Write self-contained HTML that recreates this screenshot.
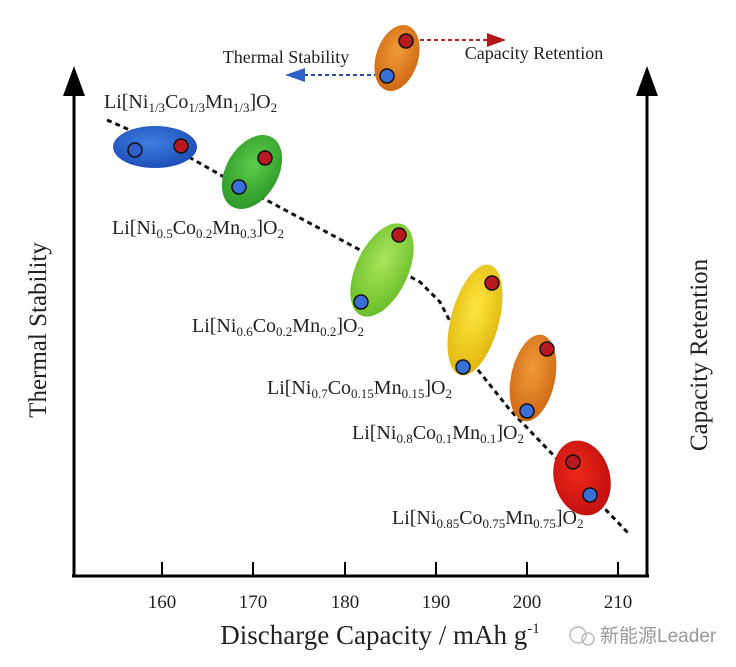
<!DOCTYPE html>
<html><head><meta charset="utf-8"><style>
html,body{margin:0;padding:0;background:#fff}
svg{display:block}
text{font-family:"Liberation Serif",serif;fill:#222}
</style></head><body>
<svg width="736" height="667" viewBox="0 0 736 667" xmlns="http://www.w3.org/2000/svg">
<defs>
<radialGradient id="gb" cx="45%" cy="40%" r="60%"><stop offset="0" stop-color="#3f7fe0"/><stop offset="1" stop-color="#1f4fb8"/></radialGradient>
<radialGradient id="gg" cx="45%" cy="40%" r="60%"><stop offset="0" stop-color="#5ccb4a"/><stop offset="1" stop-color="#2f9a2a"/></radialGradient>
<radialGradient id="glg" cx="45%" cy="40%" r="60%"><stop offset="0" stop-color="#a9e55a"/><stop offset="1" stop-color="#6cbf2c"/></radialGradient>
<radialGradient id="gy" cx="45%" cy="40%" r="60%"><stop offset="0" stop-color="#ffe640"/><stop offset="1" stop-color="#e0b810"/></radialGradient>
<radialGradient id="go" cx="45%" cy="40%" r="60%"><stop offset="0" stop-color="#f09a3a"/><stop offset="1" stop-color="#d06a14"/></radialGradient>
<radialGradient id="gr" cx="45%" cy="40%" r="60%"><stop offset="0" stop-color="#f02a1a"/><stop offset="1" stop-color="#c01010"/></radialGradient>
</defs>
<line x1="74" y1="90" x2="74" y2="576" stroke="#000" stroke-width="3"/>
<polygon points="74,66 63,96 85,96" fill="#000"/>
<line x1="647" y1="90" x2="647" y2="576" stroke="#000" stroke-width="3"/>
<polygon points="647,66 636,96 658,96" fill="#000"/>
<line x1="72" y1="576" x2="649" y2="576" stroke="#000" stroke-width="3"/>
<g stroke="#000" stroke-width="2">
<line x1="162" y1="576" x2="162" y2="562"/><line x1="253" y1="576" x2="253" y2="562"/>
<line x1="345" y1="576" x2="345" y2="562"/><line x1="436" y1="576" x2="436" y2="562"/>
<line x1="527" y1="576" x2="527" y2="562"/><line x1="618" y1="576" x2="618" y2="562"/>
</g>
<g font-size="19" text-anchor="middle">
<text x="162" y="608">160</text><text x="253" y="608">170</text><text x="345" y="608">180</text>
<text x="436" y="608">190</text><text x="527" y="608">200</text><text x="618" y="608">210</text>
</g>
<text x="380" y="644" font-size="27" text-anchor="middle">Discharge Capacity / mAh g<tspan dy="-11" font-size="15">-1</tspan></text>
<text transform="translate(46,330) rotate(-90)" font-size="25" text-anchor="middle">Thermal Stability</text>
<text transform="translate(707,355) rotate(-90)" font-size="25" text-anchor="middle">Capacity Retention</text>
<polyline points="107,120 180,152 240,186 362,251 420,282 440,302 470,360 510,410 630,535" fill="none" stroke="#111" stroke-width="3" stroke-dasharray="5,4"/>
<line x1="420" y1="40" x2="488" y2="40" stroke="#b22" stroke-width="2" stroke-dasharray="4,3"/>
<polygon points="506,40 487,33 487,47" fill="#b01818"/>
<line x1="385" y1="75" x2="305" y2="75" stroke="#2a4ab0" stroke-width="2" stroke-dasharray="4,3"/>
<polygon points="285,75 305,68 305,82" fill="#2f5fc8"/>
<text x="286" y="63" font-size="18" text-anchor="middle">Thermal Stability</text>
<text x="534" y="59" font-size="18" text-anchor="middle">Capacity Retention</text>
<ellipse cx="397" cy="58" rx="21" ry="34" transform="rotate(18 397 58)" fill="url(#go)"/>
<circle cx="406" cy="41" r="7" fill="#b81820" stroke="#111" stroke-width="1.5"/>
<circle cx="387" cy="76" r="7" fill="#3a6fd8" stroke="#111" stroke-width="1.5"/>
<ellipse cx="155" cy="147" rx="42" ry="21" fill="url(#gb)"/>
<circle cx="135" cy="150" r="7" fill="#2f5fc8" stroke="#111" stroke-width="1.5"/>
<circle cx="181" cy="146" r="7" fill="#b81820" stroke="#111" stroke-width="1.5"/>
<ellipse cx="252" cy="172" rx="26" ry="40" transform="rotate(30 252 172)" fill="url(#gg)"/>
<circle cx="265" cy="158" r="7" fill="#b81820" stroke="#111" stroke-width="1.5"/>
<circle cx="239" cy="187" r="7" fill="#3a6fd8" stroke="#111" stroke-width="1.5"/>
<ellipse cx="382" cy="270" rx="26" ry="50" transform="rotate(25 382 270)" fill="url(#glg)"/>
<circle cx="399" cy="235" r="7" fill="#b81820" stroke="#111" stroke-width="1.5"/>
<circle cx="361" cy="302" r="7" fill="#3a6fd8" stroke="#111" stroke-width="1.5"/>
<ellipse cx="475" cy="320" rx="24" ry="57" transform="rotate(15 475 320)" fill="url(#gy)"/>
<circle cx="492" cy="283" r="7" fill="#b81820" stroke="#111" stroke-width="1.5"/>
<circle cx="463" cy="367" r="7" fill="#3a6fd8" stroke="#111" stroke-width="1.5"/>
<ellipse cx="533" cy="378" rx="22" ry="44" transform="rotate(12 533 378)" fill="url(#go)"/>
<circle cx="547" cy="349" r="7" fill="#b81820" stroke="#111" stroke-width="1.5"/>
<circle cx="527" cy="411" r="7" fill="#3a6fd8" stroke="#111" stroke-width="1.5"/>
<ellipse cx="582" cy="478" rx="28" ry="38" transform="rotate(-15 582 478)" fill="url(#gr)"/>
<circle cx="573" cy="462" r="7" fill="#b81820" stroke="#111" stroke-width="1.5"/>
<circle cx="590" cy="495" r="7" fill="#3a6fd8" stroke="#111" stroke-width="1.5"/>
<g font-size="20">
<text x="104" y="108">Li[Ni<tspan font-size="13" dy="4">1/3</tspan><tspan dy="-4">Co</tspan><tspan font-size="13" dy="4">1/3</tspan><tspan dy="-4">Mn</tspan><tspan font-size="13" dy="4">1/3</tspan><tspan dy="-4">]O</tspan><tspan font-size="13" dy="4">2</tspan></text>
<text x="112" y="234">Li[Ni<tspan font-size="13" dy="4">0.5</tspan><tspan dy="-4">Co</tspan><tspan font-size="13" dy="4">0.2</tspan><tspan dy="-4">Mn</tspan><tspan font-size="13" dy="4">0.3</tspan><tspan dy="-4">]O</tspan><tspan font-size="13" dy="4">2</tspan></text>
<text x="192" y="332">Li[Ni<tspan font-size="13" dy="4">0.6</tspan><tspan dy="-4">Co</tspan><tspan font-size="13" dy="4">0.2</tspan><tspan dy="-4">Mn</tspan><tspan font-size="13" dy="4">0.2</tspan><tspan dy="-4">]O</tspan><tspan font-size="13" dy="4">2</tspan></text>
<text x="267" y="394">Li[Ni<tspan font-size="13" dy="4">0.7</tspan><tspan dy="-4">Co</tspan><tspan font-size="13" dy="4">0.15</tspan><tspan dy="-4">Mn</tspan><tspan font-size="13" dy="4">0.15</tspan><tspan dy="-4">]O</tspan><tspan font-size="13" dy="4">2</tspan></text>
<text x="352" y="439">Li[Ni<tspan font-size="13" dy="4">0.8</tspan><tspan dy="-4">Co</tspan><tspan font-size="13" dy="4">0.1</tspan><tspan dy="-4">Mn</tspan><tspan font-size="13" dy="4">0.1</tspan><tspan dy="-4">]O</tspan><tspan font-size="13" dy="4">2</tspan></text>
<text x="392" y="524">Li[Ni<tspan font-size="13" dy="4">0.85</tspan><tspan dy="-4">Co</tspan><tspan font-size="13" dy="4">0.75</tspan><tspan dy="-4">Mn</tspan><tspan font-size="13" dy="4">0.75</tspan><tspan dy="-4">]O</tspan><tspan font-size="13" dy="4">2</tspan></text>
</g>
<circle cx="578" cy="635" r="8" fill="none" stroke="#bbb" stroke-width="1.5"/>
<circle cx="588" cy="639" r="6" fill="none" stroke="#bbb" stroke-width="1.5"/>
<text x="600" y="642" font-size="19" style="font-family:'Liberation Sans','Noto Sans CJK SC',sans-serif;fill:#999">新能源Leader</text>
</svg>
</body></html>
